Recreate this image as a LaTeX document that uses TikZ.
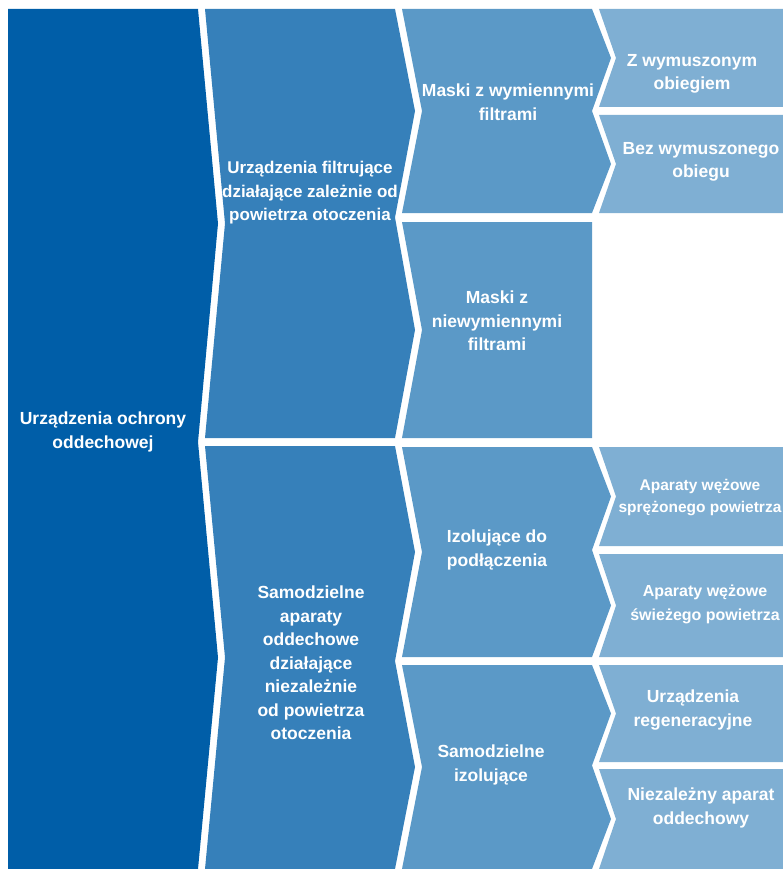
\documentclass[tikz,border=0pt]{standalone}
\usepackage{fontspec}
\setmainfont{Liberation Sans}
\usetikzlibrary{positioning}

\definecolor{lvlA}{RGB}{0,94,168}
\definecolor{lvlB}{RGB}{54,128,186}
\definecolor{lvlC}{RGB}{91,153,199}
\definecolor{lvlD}{RGB}{127,175,211}

\tikzset{
  txt/.style={text=white, align=center, inner sep=0pt, font=\bfseries\fontsize{17.5}{23.5}\selectfont},
  txtnarrow/.style={txt, font=\bfseries\fontsize{17}{23.5}\selectfont},
  txtsmall/.style={txt, font=\bfseries\fontsize{15.5}{22}\selectfont},
  txtmid/.style={txt, font=\bfseries\fontsize{16}{24}\selectfont},
}

\begin{document}
\begin{tikzpicture}[x=1pt, y=-1pt]
		\useasboundingbox (0,0) rectangle (782,869);
		% level 1
		\fill[lvlA] (8,9) -- (198,9) -- (218,223.5) -- (198,442) -- (218,657.5) -- (198,869) -- (8,869) -- cycle;
		% level 2
		\fill[lvlB] (205,9) -- (395,9) -- (415,111) -- (395,217.5) -- (415,330) -- (395,438) -- (205,438) -- (225,223.5) -- cycle;
		\fill[lvlB] (205,446) -- (395,446) -- (415,552) -- (395,661) -- (415,767) -- (395,869) -- (205,869) -- (225,657.5) -- cycle;
		% level 3
		\fill[lvlC] (402,9) -- (592,9) -- (611,58) -- (592,111) -- (611,164) -- (592,213) -- (402,213) -- (422,111) -- cycle;
		\fill[lvlC] (402,222) -- (592,222) -- (592,438) -- (402,438) -- (422,330) -- cycle;
		\fill[lvlC] (402,447) -- (592,447) -- (611,496.5) -- (592,550) -- (611,605.5) -- (592,657) -- (402,657) -- (422,552) -- cycle;
		\fill[lvlC] (402,665) -- (592,665) -- (611,713.5) -- (592,765.5) -- (611,819) -- (592,869) -- (402,869) -- (422,767) -- cycle;
		% level 4
		\fill[lvlD] (599,9) -- (790,9) -- (790,107) -- (599,107) -- (616,58) -- cycle;
		\fill[lvlD] (599,115) -- (790,115) -- (790,213) -- (599,213) -- (616,164) -- cycle;
		\fill[lvlD] (599,447) -- (790,447) -- (790,546) -- (599,546) -- (616,496.5) -- cycle;
		\fill[lvlD] (599,554) -- (790,554) -- (790,657) -- (599,657) -- (616,605.5) -- cycle;
		\fill[lvlD] (599,665) -- (790,665) -- (790,762) -- (599,762) -- (616,713.5) -- cycle;
		\fill[lvlD] (599,769) -- (790,769) -- (790,869) -- (599,869) -- (616,819) -- cycle;

		\node[txt] (ochrona) at (103,432) {Urządzenia ochrony\\oddechowej};
		\node[txtnarrow] (filtr) at (310,193) {Urządzenia filtrujące\\działające zależnie od\\powietrza otoczenia};
		\node[txt] (samodz) at (311,663) {Samodzielne\\aparaty\\oddechowe\\działające\\niezależnie\\od powietrza\\otoczenia};
		\node[txt] (wymien) at (508,102) {Maski z wymiennymi\\filtrami};
		\node[txt] (niewym) at (497,321) {Maski z\\niewymiennymi\\filtrami};
		\node[txt] (izpodl) at (497,550) {Izolujące do\\podłączenia};
		\node[txt] (izsam) at (491,765) {Samodzielne\\izolujące};
		\node[txt] (zwym) at (692,74) {Z wymuszonym\\obiegiem};
		\node[txt] (bezwym) at (701,162) {Bez wymuszonego\\obiegu};
		\node[txtsmall] (sprez) at (700,498) {Aparaty wężowe\\sprężonego powietrza};
		\node[txtmid] (swiez) at (705,604) {Aparaty wężowe\\świeżego powietrza};
		\node[txt] (regen) at (693,710) {Urządzenia\\regeneracyjne};
		\node[txt] (niezal) at (701,808) {Niezależny aparat\\oddechowy};
		\end{tikzpicture}
\end{document}
